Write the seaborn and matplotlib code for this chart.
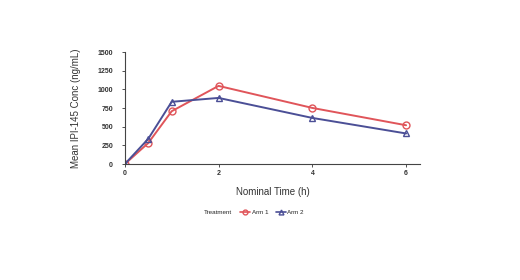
import matplotlib
matplotlib.use("Agg")
import matplotlib.pyplot as plt
from matplotlib.lines import Line2D
import seaborn as sns
import pandas as pd

# mean concentration by nominal time
times = [0, 0.5, 1, 2, 4, 6]
arm1 = [0, 282, 708, 1047, 752, 520]
arm2 = [0, 338, 834, 886, 618, 410]
arms = ["Arm 1", "Arm 2"]
colors = ["#e0555a", "#4b4f96"]

df = pd.DataFrame({
    "time": times * 2,
    "conc": arm1 + arm2,
    "Treatment": [arms[0]] * len(times) + [arms[1]] * len(times),
})

sns.set_style("ticks")
plt.rcParams["font.family"] = ["Liberation Sans", "DejaVu Sans"]

fig = plt.figure(figsize=(5.2, 2.8), dpi=100)
ax = fig.add_axes([0.240, 0.414, 0.568, 0.400])

sns.lineplot(data=df, x="time", y="conc", hue="Treatment", style="Treatment",
             palette=colors, markers=["o", "^"], dashes=False, lw=1.4,
             markersize=5, markerfacecolor="none", markeredgewidth=1.0,
             ax=ax, legend=False)
# open markers need edge colours per line
for line, c in zip(ax.get_lines(), colors):
    line.set_markeredgecolor(c)

ax.set_xlim(0, 6.3)
ax.set_ylim(0, 1500)
ax.set_xticks([0, 2, 4, 6])
ax.set_yticks([0, 250, 500, 750, 1000, 1250, 1500])
ax.tick_params(labelsize=5, length=2.5, width=0.6, colors="#333333", pad=2)
ax.tick_params(axis="y", pad=6)
for t in ax.get_xticklabels() + ax.get_yticklabels():
    t.set_fontweight("bold")
sns.despine(ax=ax)
for s in ["left", "bottom"]:
    ax.spines[s].set_linewidth(0.8)
    ax.spines[s].set_color("#444444")

ax.set_xlabel("Nominal Time (h)", fontsize=7, color="#333333", labelpad=7)
ax.set_ylabel("Mean IPI-145 Conc (ng/mL)", fontsize=7, color="#333333", labelpad=12)

blank = Line2D([], [], linestyle="none")
h1 = Line2D([], [], color=colors[0], marker="o", mfc="none", lw=1.2, markersize=3.5)
h2 = Line2D([], [], color=colors[1], marker="^", mfc="none", lw=1.2, markersize=3.5)
fig.legend([blank, h1, h2], ["Treatment"] + arms, ncol=3, loc="center",
           bbox_to_anchor=(248 / 520, 1 - 212 / 280), frameon=False,
           fontsize=4.5, handlelength=1.6, handletextpad=0.3, columnspacing=1.2)

fig.savefig("out.png", dpi=100, facecolor="white")
